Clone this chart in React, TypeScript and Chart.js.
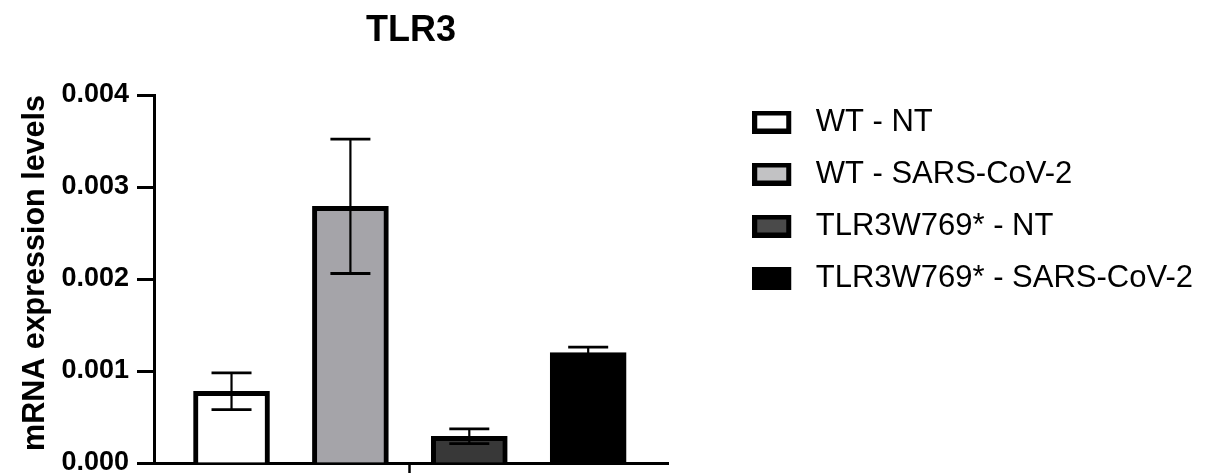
import React, { useEffect, useRef } from 'react';
import { Chart, registerables } from 'chart.js';

Chart.register(...registerables);

// ---- data ----
const chartTitle = 'TLR3';
const yAxisTitle = 'mRNA expression levels';
const groups = ['WT - NT', 'WT - SARS-CoV-2', 'TLR3W769* - NT', 'TLR3W769* - SARS-CoV-2'];
const positions = [1, 2, 3, 4];
const means = [0.00078, 0.00279, 0.00029, 0.0012];
const errors = [0.0002, 0.00073, 0.00008, 0.00006];
const yTicks = [0, 0.001, 0.002, 0.003, 0.004];
const xCenterTick = [2.5];
const barColors = ['#ffffff', '#a5a4a9', '#383838', '#000000'];
const legendColors = ['#ffffff', '#c2c2c4', '#4a4a4a', '#000000'];

const FONT = "'Liberation Sans', Arial, Helvetica, sans-serif";

const errorBarPlugin = {
  id: 'errorBars',
  afterDatasetsDraw(chart: any) {
    const { ctx } = chart;
    const y = chart.scales.y;
    ctx.save();
    ctx.strokeStyle = '#000';
    chart.data.datasets.forEach((_ds: any, i: number) => {
      const meta = chart.getDatasetMeta(i);
      const el = meta.data[0];
      if (!el) return;
      const x = el.x;
      const top = y.getPixelForValue(means[i] + errors[i]);
      const bot = y.getPixelForValue(means[i] - errors[i]);
      ctx.lineWidth = 2.2;
      ctx.beginPath();
      ctx.moveTo(x, top);
      ctx.lineTo(x, bot);
      ctx.stroke();
      ctx.lineWidth = 2.8;
      ctx.beginPath();
      ctx.moveTo(x - 20, top);
      ctx.lineTo(x + 20, top);
      ctx.moveTo(x - 20, bot);
      ctx.lineTo(x + 20, bot);
      ctx.stroke();
    });
    ctx.restore();
  },
};

function makeSwatch(fill: string) {
  const c = document.createElement('canvas');
  c.width = 48;
  c.height = 23;
  const g = c.getContext('2d')!;
  g.fillStyle = '#000';
  g.fillRect(0, 0, 39, 23);
  g.fillStyle = fill;
  g.fillRect(5, 5, 29, 13);
  return c;
}

export default function App() {
  const canvasRef = useRef<HTMLCanvasElement | null>(null);

  useEffect(() => {
    if (!canvasRef.current) return;
    Chart.defaults.font.family = FONT;
    Chart.defaults.color = '#000';
    const swatches = legendColors.map(makeSwatch);

    const chart = new Chart(canvasRef.current, {
      type: 'bar',
      data: {
        datasets: groups.map((g, i) => ({
          label: g,
          data: [{ x: positions[i], y: means[i] }],
          backgroundColor: barColors[i],
          borderColor: '#000',
          borderWidth: 5,
          barThickness: 76,
          grouped: false,
          xAxisID: 'x',
          yAxisID: 'y',
        })),
      },
      options: {
        animation: false,
        responsive: true,
        maintainAspectRatio: false,
        layout: { padding: { left: 0, right: 6, top: 0, bottom: 0 } },
        plugins: {
          tooltip: { enabled: false },
          title: {
            display: true,
            text: chartTitle,
            fullSize: false,
            color: '#000',
            font: { size: 36, weight: 'bold', family: FONT },
            padding: { top: 9.4, bottom: 42.4 },
          },
          legend: {
            display: true,
            position: 'right',
            align: 'start',
            fullSize: true,
            maxWidth: 700,
            title: {
              display: true,
              text: ' ',
              font: { size: 12 },
              padding: { top: 71.1, bottom: 0 },
            },
            labels: {
              usePointStyle: true,
              pointStyleWidth: 48,
              padding: 21,
              color: '#000',
              font: { size: 31, family: FONT },
              generateLabels: () =>
                groups.map((g, i) => ({
                  text: g,
                  fillStyle: legendColors[i],
                  strokeStyle: '#000',
                  lineWidth: 0,
                  pointStyle: swatches[i],
                  hidden: false,
                  datasetIndex: i,
                })),
            },
          },
        },
        scales: {
          x: {
            type: 'linear',
            position: 'bottom',
            offset: false,
            min: 0.348,
            max: 4.673,
            afterBuildTicks: (s: any) => {
              s.ticks = xCenterTick.map((v) => ({ value: v }));
            },
            afterFit: (s: any) => {
              s.height = 10;
              s.paddingLeft = 0;
              s.paddingRight = 0;
            },
            ticks: { display: false },
            grid: {
              display: true,
              offset: false,
              drawOnChartArea: false,
              drawTicks: true,
              tickLength: 10,
              tickWidth: 2.5,
              tickColor: '#000',
            },
            border: { display: true, color: '#000', width: 3 },
          },
          y: {
            type: 'linear',
            position: 'left',
            min: 0,
            max: 0.004,
            afterBuildTicks: (s: any) => {
              s.ticks = yTicks.map((v) => ({ value: v }));
            },
            afterFit: (s: any) => {
              s.width = 154;
              s.paddingTop = 0;
              s.paddingBottom = 0;
            },
            ticks: {
              padding: 8,
              color: '#000',
              font: { size: 27, weight: 'bold', family: FONT },
              callback: (v: any) => Number(v).toFixed(3),
            },
            grid: {
              display: true,
              drawOnChartArea: false,
              drawTicks: true,
              tickLength: 17,
              tickWidth: 3,
              tickColor: '#000',
            },
            border: { display: true, color: '#000', width: 3 },
            title: {
              display: true,
              text: yAxisTitle,
              align: 'end',
              color: '#000',
              font: { size: 30.5, weight: 'bold', family: FONT },
              padding: { top: 17.5, bottom: 0 },
            },
          },
          y2: {
            type: 'linear',
            position: 'right',
            display: true,
            ticks: { display: false },
            grid: { display: false },
            border: { display: false },
            afterFit: (s: any) => {
              s.width = 63;
              s.paddingTop = 0;
              s.paddingBottom = 0;
            },
          },
        },
      },
      plugins: [errorBarPlugin],
    } as any);

    return () => chart.destroy();
  }, []);

  return (
    <div style={{ position: 'absolute', left: 0, top: 0, width: 1209, height: 473 }}>
      <canvas ref={canvasRef} />
    </div>
  );
}
